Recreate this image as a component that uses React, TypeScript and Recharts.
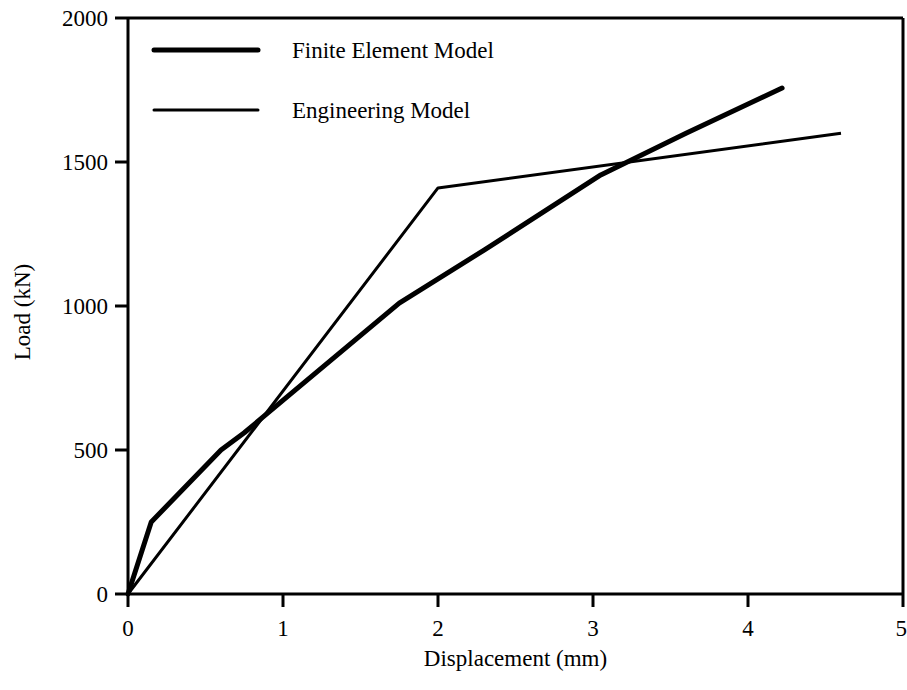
import { LineChart, Line, XAxis, YAxis, ReferenceLine } from 'recharts';

// load-displacement curves (displacement mm, load kN)
const feDisp = [0, 0.15, 0.6, 0.75, 1.75, 2.3, 3.05, 3.6, 4.22];
const feLoad = [0, 250, 500, 560, 1010, 1195, 1455, 1600, 1757];
const engDisp = [0, 2.0, 4.6];
const engLoad = [0, 1410, 1600];

const xTicks = [0, 1, 2, 3, 4, 5];
const yTicks = [0, 500, 1000, 1500, 2000];

const SERIES = [
  { key: 'fe', name: 'Finite Element Model', width: 5 },
  { key: 'eng', name: 'Engineering Model', width: 3 },
];

const feData = feDisp.map((x, i) => ({ x, y: feLoad[i] }));
const engData = engDisp.map((x, i) => ({ x, y: engLoad[i] }));

const FONT = '"Liberation Serif", "Times New Roman", serif';
const FS = 23;
const tickStyle = { fill: '#000', fontSize: FS, fontFamily: FONT };

// legend sits inside the plot box, top-left
const LegendBox = () => (
  <svg width={380} height={100} style={{ position: 'absolute', left: 150, top: 33 }}>
    {SERIES.map((s, i) => (
      <g key={s.key}>
        <line x1={4} x2={108} y1={17 + i * 60} y2={17 + i * 60} stroke="#000" strokeWidth={s.width} strokeLinecap="round" />
        <text x={142} y={17 + i * 60} dy="0.35em" fontSize={FS} fontFamily={FONT} fill="#000">
          {s.name}
        </text>
      </g>
    ))}
  </svg>
);

export default function App() {
  return (
    <div style={{ position: 'absolute', left: 0, top: 0, width: 907, height: 690, background: '#fff' }}>
      <LineChart width={907} height={690} margin={{ top: 18, right: 4, bottom: 0, left: 0 }}>
        <XAxis
          type="number"
          dataKey="x"
          domain={[0, 5]}
          ticks={xTicks}
          height={96}
          stroke="#000"
          strokeWidth={3}
          tickSize={13}
          tickMargin={13}
          tick={tickStyle}
          label={({ viewBox }: any) => (
            <text x={viewBox.x + viewBox.width / 2} y={658} textAnchor="middle" dominantBaseline="central" fontSize={FS} fontFamily={FONT} fill="#000">
              Displacement (mm)
            </text>
          )}
        />
        <YAxis
          type="number"
          dataKey="y"
          domain={[0, 2000]}
          ticks={yTicks}
          width={128}
          stroke="#000"
          strokeWidth={3}
          tickSize={13}
          tickMargin={7}
          tick={tickStyle}
          label={({ viewBox }: any) => {
            const cy = viewBox.y + viewBox.height / 2 + 6;
            return (
              <text x={22} y={cy} transform={`rotate(-90 22 ${cy})`} textAnchor="middle" dominantBaseline="central" fontSize={FS} fontFamily={FONT} fill="#000">
                Load (kN)
              </text>
            );
          }}
        />
        <ReferenceLine y={2000} stroke="#000" strokeWidth={3} />
        <ReferenceLine x={5} stroke="#000" strokeWidth={3} />
        <Line
          data={feData}
          dataKey="y"
          name={SERIES[0].name}
          type="linear"
          stroke="#000"
          strokeWidth={5}
          strokeLinejoin="round"
          strokeLinecap="round"
          dot={false}
          isAnimationActive={false}
        />
        <Line
          data={engData}
          dataKey="y"
          name={SERIES[1].name}
          type="linear"
          stroke="#000"
          strokeWidth={3}
          strokeLinejoin="round"
          dot={false}
          isAnimationActive={false}
        />
      </LineChart>
      <LegendBox />
    </div>
  );
}
